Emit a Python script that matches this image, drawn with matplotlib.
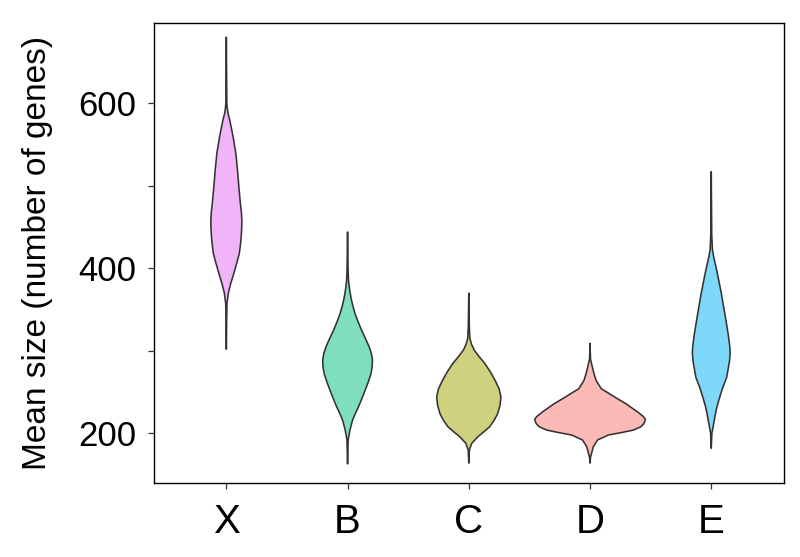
import numpy as np
import matplotlib
matplotlib.use('Agg')
import matplotlib.pyplot as plt

plt.rcParams['font.family'] = ['Liberation Sans', 'DejaVu Sans']

# categories and ggplot-style hue colours
categories = ['X', 'B', 'C', 'D', 'E']
colors = ['#E76BF3', '#00BF7D', '#A3A500', '#F8766D', '#00B0F6']

# violin outlines:
# y values (number of genes) and full violin width (x-axis units) at each y
x_y = [680, 600, 594, 588, 580, 570, 560, 539, 519, 499, 479, 468, 458, 448, 438, 428, 418,
       406, 394, 382, 370, 357, 340, 302]
x_w = [0.0, 0.008, 0.015, 0.027, 0.055, 0.083, 0.110, 0.157, 0.184, 0.206, 0.231, 0.248,
       0.256, 0.253, 0.245, 0.232, 0.214, 0.171, 0.124, 0.074, 0.033, 0.010, 0.006, 0.0]

b_y = [444, 400, 385, 375, 365, 355, 345, 335, 325, 315, 305, 297, 289, 280, 272, 262, 252,
       242, 232, 224, 216, 204, 192, 163]
b_w = [0.0, 0.008, 0.016, 0.032, 0.055, 0.085, 0.124, 0.175, 0.231, 0.295, 0.355, 0.392,
       0.410, 0.405, 0.385, 0.340, 0.289, 0.235, 0.179, 0.128, 0.082, 0.039, 0.010, 0.0]

c_y = [370, 330, 315, 308, 301, 293, 285, 274, 264, 254, 244, 234, 224, 216, 208, 202, 196,
       188, 180, 164]
c_w = [0.0, 0.008, 0.018, 0.045, 0.088, 0.170, 0.261, 0.360, 0.435, 0.500, 0.530, 0.515,
       0.476, 0.420, 0.344, 0.250, 0.151, 0.049, 0.010, 0.0]

d_y = [309, 290, 277, 270, 264, 254, 249, 244, 236, 226, 221, 217, 212, 208, 204, 201, 198,
       192, 184, 171, 164]
d_w = [0.0, 0.008, 0.049, 0.075, 0.101, 0.187, 0.300, 0.407, 0.591, 0.784, 0.870, 0.915,
       0.890, 0.839, 0.715, 0.520, 0.303, 0.124, 0.055, 0.008, 0.0]

e_y = [517, 440, 422, 412, 402, 385, 370, 353, 337, 320, 305, 297, 287, 268, 256, 244, 232,
       222, 212, 200, 182]
e_w = [0.0, 0.008, 0.020, 0.045, 0.077, 0.125, 0.165, 0.205, 0.242, 0.280, 0.306, 0.312,
       0.300, 0.255, 0.192, 0.140, 0.093, 0.065, 0.041, 0.010, 0.0]

violins = [(x_y, x_w), (b_y, b_w), (c_y, c_w), (d_y, d_w), (e_y, e_w)]

fig = plt.figure(figsize=(8, 5.57), dpi=100)
ax = fig.add_axes([0.192, 0.1323, 0.788, 0.8269])

for i, (ys, ws) in enumerate(violins):
    pos = i + 1
    ys = np.array(ys, dtype=float)
    half = np.array(ws) / 2
    xs = np.concatenate([pos - half, (pos + half)[::-1]])
    yy = np.concatenate([ys, ys[::-1]])
    ax.fill(xs, yy, facecolor=colors[i], alpha=0.5, edgecolor='none', zorder=2)
    ax.fill(xs, yy, facecolor='none', edgecolor='#333333', lw=1.15,
            joinstyle='round', zorder=3)

ax.set_xlim(0.4, 5.6)
ax.set_ylim(139.5, 697.5)
ax.set_xticks(range(1, 6))
ax.set_xticklabels(categories)
ax.set_yticks([200, 300, 400, 500, 600])
ax.set_yticklabels(['200', '', '400', '', '600'])

for s in ax.spines.values():
    s.set_linewidth(1.0)
    s.set_color('black')
ax.tick_params(axis='both', length=4.3, width=0.9, color='#333333')
ax.tick_params(axis='y', labelsize=25, pad=8)
ax.tick_params(axis='x', labelsize=29, pad=10)
ax.set_ylabel('Mean size (number of genes)', fontsize=24, labelpad=18)

fig.savefig('out.png', dpi=100)
